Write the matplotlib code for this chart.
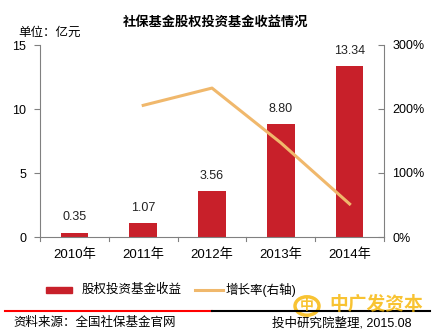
import matplotlib
matplotlib.use("Agg")
import matplotlib.pyplot as plt
from matplotlib.lines import Line2D
from matplotlib.patches import Rectangle, Circle

plt.rcParams['font.family'] = ['Liberation Sans', 'Noto Sans CJK SC', 'DejaVu Sans']

years = ['2010年', '2011年', '2012年', '2013年', '2014年']
income = [0.35, 1.07, 3.56, 8.80, 13.34]
growth = [None, 205.7, 232.7, 147.2, 51.6]
left_ticks = [0, 5, 10, 15]
right_ticks = [0, 100, 200, 300]

bar_color = '#C8202A'
line_color = '#F0B86C'

fig = plt.figure(figsize=(4.32, 3.32), dpi=100)
ax = fig.add_axes([40/432, 1-237/332, 344/432, 192/332])
x = list(range(len(years)))
ax.bar(x, income, width=0.40, color=bar_color, zorder=2)
for xi, v in zip(x, income):
    ax.text(xi, v + 0.75, f'{v:.2f}', ha='center', va='bottom', fontsize=9, color='#222222')
ax.set_xlim(-0.5, 4.5)
ax.set_ylim(0, 15)
ax.set_yticks(left_ticks)
ax.set_yticklabels([str(t) for t in left_ticks], fontsize=9)
ax.set_xticks(x)
ax.set_xticklabels(years, fontsize=9.5)
ax.tick_params(axis='x', length=0, pad=8)
ax.tick_params(axis='y', length=4, direction='out', color='#808080', pad=6)
for b in [-0.5, 0.5, 1.5, 2.5, 3.5, 4.5]:
    ax.plot([b, b], [0, -0.35], color='#808080', lw=0.8, clip_on=False)
for s in ['top', 'right']:
    ax.spines[s].set_visible(False)
ax.spines['left'].set_color('#808080')
ax.spines['bottom'].set_color('#808080')

ax2 = ax.twinx()
gx = [xi for xi, g in zip(x, growth) if g is not None]
gy = [g for g in growth if g is not None]
ax2.plot(gx, gy, color=line_color, lw=2.2, zorder=3)
ax2.set_ylim(0, 300)
ax2.set_yticks(right_ticks)
ax2.set_yticklabels([f'{t}%' for t in right_ticks], fontsize=9)
ax2.tick_params(axis='y', length=4, direction='in', color='#808080', pad=6)
for s in ['top', 'left', 'bottom']:
    ax2.spines[s].set_visible(False)
ax2.spines['right'].set_color('#808080')

fig.text(216/432, 1-22/332, '社保基金股权投资基金收益情况', ha='center', va='center',
         fontsize=9.5, fontweight='bold')
fig.text(18/432, 1-33/332, '单位：亿元', ha='left', va='center', fontsize=9)

# legend
fig.patches.append(Rectangle((46/432, 1-293/332), 26/432, 6/332, transform=fig.transFigure,
                             color=bar_color))
fig.text(82/432, 1-290/332, '股权投资基金收益', ha='left', va='center', fontsize=9)
fig.lines.append(Line2D([195/432, 223/432], [1-290/332, 1-290/332], transform=fig.transFigure,
                        color=line_color, lw=2.2))
fig.text(226/432, 1-290/332, '增长率(右轴)', ha='left', va='center', fontsize=9)

# bottom rule
fig.lines.append(Line2D([5/432, 212/432], [1-311/332, 1-311/332], transform=fig.transFigure,
                        color='#FF0000', lw=1.5))
fig.lines.append(Line2D([212/432, 430/432], [1-311/332, 1-311/332], transform=fig.transFigure,
                        color='#000000', lw=1.5))
fig.text(13/432, 1-323/332, '资料来源：全国社保基金官网', ha='left', va='center', fontsize=9)
fig.text(412/432, 1-323/332, '投中研究院整理, 2015.08', ha='right', va='center', fontsize=9)

# watermark
fig.patches.append(Circle((307/432, 1-306/332), 12/432, transform=fig.transFigure,
                          fill=False, ec='#F7B500', lw=2.5, alpha=0.8))
fig.text(307/432, 1-306/332, '中', ha='center', va='center', fontsize=10,
         fontweight='bold', color='#F7B500', alpha=0.8)
fig.text(376/432, 1-305/332, '中广发资本', ha='center', va='center', fontsize=13.5,
         fontweight='bold', color='#F7B500', alpha=0.8)

fig.savefig('out.png', dpi=100)
